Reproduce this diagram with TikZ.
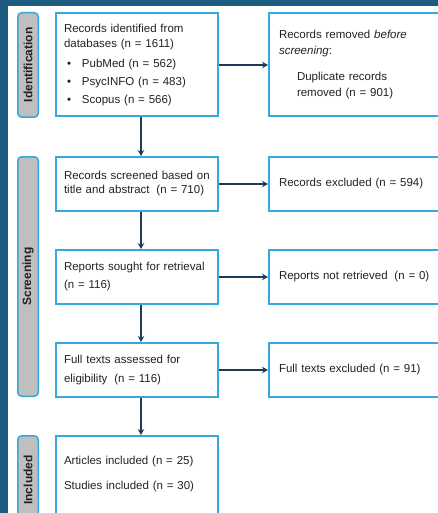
\documentclass[tikz,border=0pt]{standalone}
\usepackage{fontspec}
\setmainfont{Liberation Sans}
\usetikzlibrary{positioning,arrows.meta}

\definecolor{bandblue}{HTML}{1B5C7F}
\definecolor{edgeblue}{HTML}{35A8DD}
\definecolor{phasegrey}{HTML}{BFBFBF}
\definecolor{arrownavy}{HTML}{1E3A5A}
\definecolor{inkgrey}{HTML}{222222}

\newcommand{\srcitem}{\makebox[18pt][l]{\hspace{3pt}\textbullet}}

\tikzset{
  stage/.style={draw=edgeblue, line width=2pt, fill=white, align=left, text=inkgrey,
    font=\fontsize{11.5}{15}\selectfont, inner xsep=8pt, text width=146pt, minimum height=54pt},
  outcome/.style={stage, inner xsep=10pt, text width=160pt},
  phase/.style={draw=edgeblue, line width=1.5pt, fill=phasegrey, rounded corners=4pt, rotate=90,
    minimum height=20.5pt, inner sep=0pt, text=inkgrey, font=\bfseries\fontsize{12}{14}\selectfont},
  flow/.style={draw=arrownavy, line width=1.8pt, -{Stealth[length=6pt,width=6.5pt]}}
}

\begin{document}
\begin{tikzpicture}[x=1pt, y=-1pt]

\useasboundingbox (0,0) rectangle (438,513);
\clip (0,0) rectangle (438,513);
\fill[bandblue] (0,0) rectangle (438,6);
\fill[bandblue] (0,0) rectangle (8,513);

% phases
\node[phase, minimum width=104.5pt] (identification) at (28,65) {Identification};
\node[phase, minimum width=239.5pt] (screening) at (28,276.5) {Screening};
\node[phase, minimum width=88.5pt] (included) at (28,480) {Included};

% main column
\node[stage, minimum height=103pt] (identified) at (137,65) {Records identified from\\
  databases (n = 1611)\\[5pt]
  \srcitem PubMed (n = 562)\\[2.5pt]
  \srcitem PsycINFO (n = 483)\\[3pt]
  \srcitem Scopus (n = 566)};
\node[stage, below=38.5pt of identified] (screened) {Records screened based on\\[-1pt]
  title and abstract\hspace{3pt} (n = 710)};
\node[stage, below=37pt of screened] (sought) {Reports sought for retrieval\\[3pt]
  (n = 116)};
\node[stage, below=37pt of sought] (assessed) {Full texts assessed for\\[4pt]
  eligibility\hspace{3pt} (n = 116)};
\node[stage, below=37pt of assessed, minimum height=88pt, text depth=39pt] (studies) {Articles included (n = 25)\\[10pt]
  Studies included (n = 30)};

% side column
\node[outcome, right=49pt of identified, minimum height=103pt] (removed) {Records removed \textit{before}\\[1pt]
  \textit{screening}:\\[11pt]
  \hspace*{18pt}Duplicate records\\[1pt]
  \hspace*{18pt}removed (n = 901)};
\node[outcome, right=49pt of screened] (excluded) {Records excluded (n = 594)};
\node[outcome, right=49pt of sought] (notretrieved) {Reports not retrieved\hspace{3pt} (n = 0)};
\node[outcome, right=49pt of assessed] (textsexcluded) {Full texts excluded (n = 91)};

% connectors
\draw[flow] ([xshift=4pt]identified.south) -- ([xshift=4pt]screened.north);
\draw[flow] ([xshift=4pt]screened.south) -- ([xshift=4pt]sought.north);
\draw[flow] ([xshift=4pt]sought.south) -- ([xshift=4pt]assessed.north);
\draw[flow] ([xshift=4pt]assessed.south) -- ([xshift=4pt]studies.north);
\draw[flow] (identified) -- (removed);
\draw[flow] (screened) -- (excluded);
\draw[flow] (sought) -- (notretrieved);
\draw[flow] (assessed) -- (textsexcluded);

\end{tikzpicture}
\end{document}
